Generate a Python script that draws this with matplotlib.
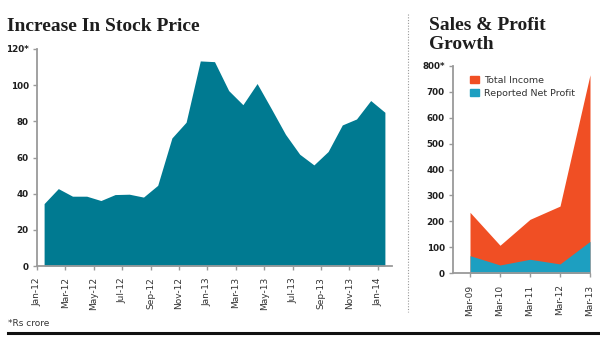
import matplotlib
matplotlib.use("Agg")
import matplotlib.pyplot as plt
from matplotlib.patches import Patch
from matplotlib.lines import Line2D
import numpy as np

# stock price, monthly Jan-12 .. Jan-14
months = ["Jan-12", "Feb-12", "Mar-12", "Apr-12", "May-12", "Jun-12", "Jul-12",
          "Aug-12", "Sep-12", "Oct-12", "Nov-12", "Dec-12", "Jan-13", "Feb-13",
          "Mar-13", "Apr-13", "May-13", "Jun-13", "Jul-13", "Aug-13", "Sep-13",
          "Oct-13", "Nov-13", "Dec-13", "Jan-14"]
price = [34.5, 42.8, 38.6, 38.6, 36.2, 39.5, 39.7, 38.1, 44.6, 70.8, 79.5,
         113.4, 113.0, 97.0, 89.2, 100.9, 87.0, 72.8, 61.8, 55.9, 63.3,
         78.0, 81.3, 91.5, 85.0]

# sales & profit, yearly
years = ["Mar-09", "Mar-10", "Mar-11", "Mar-12", "Mar-13"]
total_income = [235, 108, 208, 259, 765]
net_profit = [68, 32, 54, 36, 123]

teal = "#007a91"
orange = "#f04f24"
blue = "#1d9fc1"
grey = "#9a9a9a"
txt = "#1e1e1e"

fig = plt.figure(figsize=(6, 3.4), dpi=100)

# ---- left: stock price
ax1 = fig.add_axes([37 / 600, 1 - 266 / 340, 355 / 600, 217 / 340])
x1 = np.arange(len(price)) + 0.5
ax1.fill_between(x1, price, color=teal, linewidth=0)
ax1.set_xlim(0, 25)
ax1.set_ylim(0, 120)
ax1.set_yticks([0, 20, 40, 60, 80, 100, 120])
ax1.set_yticklabels(["0", "20", "40", "60", "80", "100", "120*"])
ax1.set_xticks(np.arange(0, 25, 2))
ax1.set_xticklabels(months[::2], rotation=90)

# ---- right: sales & profit
ax2 = fig.add_axes([453 / 600, 1 - 273.3 / 340, 137 / 600, 207.6 / 340])
x2 = np.arange(len(years))
ax2.fill_between(x2, total_income, color=orange, linewidth=0)
ax2.fill_between(x2, net_profit, color=blue, linewidth=0)
ax2.set_xlim(-0.567, 4)
ax2.set_ylim(0, 800)
ax2.set_yticks(range(0, 801, 100))
ax2.set_yticklabels([str(v) for v in range(0, 800, 100)] + ["800*"])
ax2.set_xticks(x2)
ax2.set_xticklabels(years, rotation=90)

leg = ax2.legend(handles=[Patch(color=orange, label="Total Income"),
                          Patch(color=blue, label="Reported Net Profit")],
                 loc="upper left", bbox_to_anchor=(0.1, 0.97), frameon=False,
                 fontsize=6.8, handlelength=0.85, handleheight=0.85,
                 handletextpad=0.6, labelspacing=0.4, borderaxespad=0)
for t in leg.get_texts():
    t.set_color("#333333")

for ax in (ax1, ax2):
    for s in ("top", "right"):
        ax.spines[s].set_visible(False)
    for s in ("left", "bottom"):
        ax.spines[s].set_color(grey)
        ax.spines[s].set_linewidth(1.3)
    ax.tick_params(axis="both", color=grey, length=3, width=1)
    ax.tick_params(axis="x", labelsize=6.5, labelcolor="#333333", pad=5)
    ax.tick_params(axis="y", labelsize=6.3, labelcolor=txt, pad=3)
    for lab in ax.get_yticklabels():
        lab.set_fontweight("bold")

# titles
fig.text(7 / 600, 1 - 31 / 340, "Increase In Stock Price", family="Liberation Serif",
         fontweight="bold", fontsize=14, color=txt)
fig.text(429 / 600, 1 - 30 / 340, "Sales & Profit", family="Liberation Serif",
         fontweight="bold", fontsize=14, color=txt)
fig.text(429 / 600, 1 - 49 / 340, "Growth", family="Liberation Serif",
         fontweight="bold", fontsize=14, color=txt)

fig.text(8 / 600, 1 - 326 / 340, "*Rs crore", fontsize=6.5, color="#333333")

# dotted separator and bottom rule
fig.add_artist(Line2D([407.7 / 600, 407.7 / 600], [1 - 14 / 340, 1 - 312 / 340],
                      color="#999999", linewidth=0.8, linestyle=(0, (1, 1.5))))
fig.add_artist(Line2D([8 / 600, 1.0], [1 - 333 / 340, 1 - 333 / 340],
                      color="#111111", linewidth=2.2))

fig.savefig("out.png", dpi=100)
